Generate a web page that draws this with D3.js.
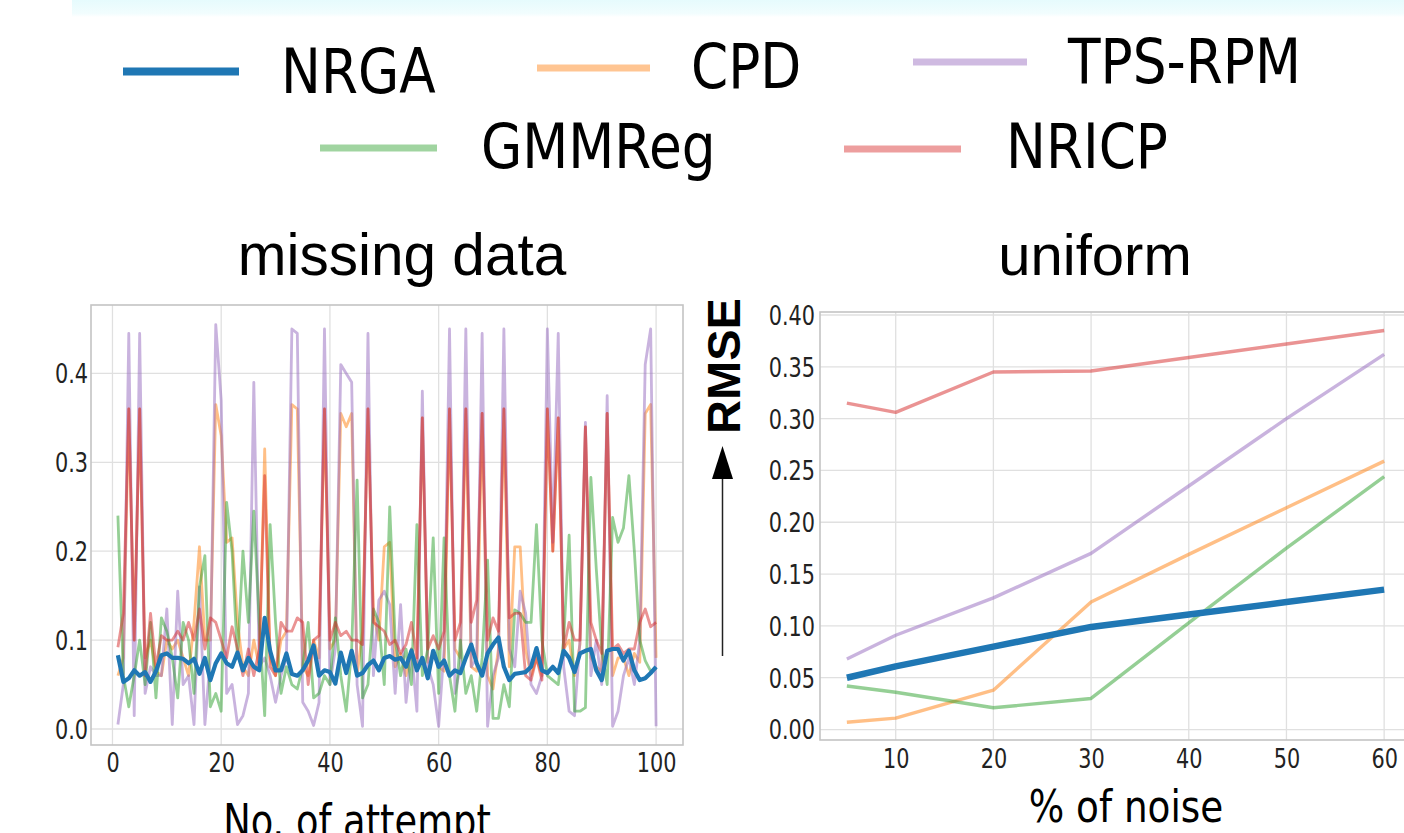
<!DOCTYPE html>
<html><head><meta charset="utf-8">
<script src="https://cdn.jsdelivr.net/npm/d3@7"></script>
<style>html,body{margin:0;padding:0;background:#fff;overflow:hidden}</style>
</head><body>
<svg id="c" width="1404" height="833"></svg>
<script>
const seriesNames = ["NRGA","CPD","TPS-RPM","GMMReg","NRICP"];
const seriesColors = ["#1f77b4","#ff7f0e","#9467bd","#2ca02c","#d62728"];

const attempts = d3.range(1, 101);
const mdNRGA = [
0.083,0.053,0.057,0.066,0.060,0.064,0.053,0.065,0.083,0.085,
0.080,0.080,0.079,0.074,0.079,0.062,0.080,0.055,0.074,0.085,
0.074,0.070,0.086,0.066,0.080,0.070,0.066,0.125,0.088,0.066,
0.066,0.085,0.062,0.060,0.066,0.077,0.094,0.060,0.066,0.064,
0.051,0.086,0.063,0.088,0.060,0.063,0.072,0.077,0.066,0.080,
0.082,0.078,0.080,0.070,0.088,0.066,0.080,0.057,0.088,0.070,
0.077,0.060,0.066,0.063,0.080,0.095,0.074,0.060,0.085,0.095,
0.103,0.070,0.055,0.062,0.063,0.064,0.070,0.091,0.066,0.063,
0.070,0.063,0.088,0.080,0.064,0.085,0.088,0.090,0.066,0.055,
0.088,0.090,0.090,0.077,0.088,0.066,0.055,0.057,0.063,0.070];
const mdCPD = [
0.060,0.080,0.360,0.100,0.360,0.080,0.100,0.065,0.060,0.100,
0.090,0.100,0.080,0.060,0.120,0.205,0.100,0.100,0.365,0.330,
0.210,0.215,0.120,0.070,0.060,0.100,0.070,0.315,0.080,0.060,
0.100,0.110,0.365,0.360,0.070,0.060,0.100,0.080,0.360,0.090,
0.100,0.355,0.340,0.355,0.060,0.110,0.360,0.130,0.100,0.205,
0.210,0.070,0.085,0.060,0.090,0.070,0.350,0.075,0.085,0.070,
0.065,0.360,0.090,0.080,0.360,0.070,0.065,0.355,0.060,0.045,
0.090,0.360,0.070,0.205,0.205,0.090,0.060,0.080,0.060,0.360,
0.200,0.350,0.090,0.100,0.060,0.095,0.340,0.080,0.070,0.065,
0.355,0.060,0.080,0.080,0.060,0.085,0.075,0.355,0.365,0.080];
const mdTPS = [
0.005,0.050,0.445,0.015,0.445,0.040,0.070,0.060,0.060,0.135,
0.005,0.155,0.050,0.060,0.005,0.160,0.005,0.080,0.455,0.370,
0.040,0.050,0.005,0.015,0.040,0.390,0.070,0.080,0.060,0.030,
0.060,0.080,0.450,0.445,0.030,0.020,0.004,0.030,0.450,0.050,
0.090,0.410,0.400,0.390,0.050,0.003,0.445,0.060,0.145,0.155,
0.140,0.040,0.140,0.030,0.090,0.020,0.380,0.070,0.050,0.003,
0.090,0.450,0.040,0.070,0.450,0.070,0.080,0.445,0.003,0.060,
0.080,0.450,0.090,0.070,0.155,0.130,0.050,0.040,0.060,0.450,
0.210,0.445,0.070,0.020,0.015,0.100,0.345,0.060,0.100,0.050,
0.375,0.003,0.020,0.060,0.080,0.050,0.100,0.410,0.450,0.003];
const mdGMM = [
0.240,0.060,0.025,0.060,0.100,0.050,0.120,0.035,0.125,0.110,
0.080,0.035,0.120,0.100,0.040,0.160,0.195,0.025,0.040,0.020,
0.255,0.200,0.080,0.200,0.120,0.245,0.120,0.015,0.230,0.120,
0.040,0.070,0.050,0.045,0.070,0.120,0.035,0.040,0.060,0.050,
0.125,0.060,0.020,0.090,0.280,0.035,0.050,0.135,0.120,0.050,
0.250,0.100,0.060,0.090,0.050,0.230,0.060,0.090,0.215,0.040,
0.215,0.060,0.020,0.100,0.040,0.060,0.020,0.080,0.190,0.012,
0.012,0.050,0.025,0.134,0.130,0.120,0.120,0.230,0.100,0.060,
0.055,0.050,0.100,0.218,0.020,0.020,0.024,0.283,0.180,0.090,
0.050,0.238,0.210,0.226,0.285,0.200,0.100,0.077,0.065,0.068];
const mdNRICP = [
0.092,0.130,0.360,0.100,0.360,0.060,0.130,0.070,0.105,0.100,
0.100,0.110,0.100,0.120,0.100,0.135,0.090,0.125,0.120,0.100,
0.080,0.115,0.090,0.060,0.090,0.060,0.090,0.285,0.070,0.060,
0.120,0.110,0.110,0.125,0.120,0.050,0.100,0.105,0.360,0.100,
0.120,0.105,0.110,0.100,0.100,0.095,0.360,0.120,0.115,0.110,
0.095,0.100,0.085,0.095,0.120,0.080,0.350,0.090,0.105,0.090,
0.110,0.360,0.100,0.120,0.360,0.120,0.145,0.355,0.100,0.125,
0.110,0.360,0.125,0.130,0.130,0.060,0.055,0.080,0.055,0.360,
0.200,0.350,0.090,0.120,0.100,0.100,0.340,0.120,0.100,0.085,
0.355,0.090,0.095,0.085,0.090,0.090,0.120,0.135,0.115,0.120];

const noise = [5,10,20,30,40,50,60];
const unNRGA  = [0.050,0.061,0.080,0.099,0.111,0.123,0.135];
const unCPD   = [0.007,0.011,0.038,0.123,0.169,0.214,0.259];
const unTPS   = [0.068,0.091,0.127,0.170,0.235,0.300,0.362];
const unGMM   = [0.042,0.036,0.021,0.030,0.103,0.175,0.244];
const unNRICP = [0.315,0.306,0.345,0.346,0.359,0.372,0.385];

const leftXTicks = [0,20,40,60,80,100];
const leftYTicks = [0.0,0.1,0.2,0.3,0.4];
const rightXTicks = [10,20,30,40,50,60];
const rightYTicks = [0.00,0.05,0.10,0.15,0.20,0.25,0.30,0.35,0.40];

const svg = d3.select("#c");
const FONT = "'DejaVu Sans', sans-serif";
const SANS = "'Liberation Sans', Arial, sans-serif";

const defs = svg.append("defs");
const g1 = defs.append("linearGradient").attr("id","band").attr("x1",0).attr("y1",0).attr("x2",0).attr("y2",1);
g1.append("stop").attr("offset","0%").attr("stop-color","#e6fbfd");
g1.append("stop").attr("offset","80%").attr("stop-color","#f2fdfe");
g1.append("stop").attr("offset","100%").attr("stop-color","#ffffff");
svg.append("rect").attr("x",72).attr("y",0).attr("width",1332).attr("height",17).attr("fill","url(#band)");

const legend = [
  {i:0, x1:123, x2:239, ly:71.5, tx:281, ty:93, w:8},
  {i:1, x1:537, x2:650, ly:68, tx:691, ty:88, w:7},
  {i:2, x1:913, x2:1027, ly:62, tx:1068, ty:83, w:7},
  {i:3, x1:320, x2:437, ly:148, tx:481, ty:168, w:7},
  {i:4, x1:844, x2:961, ly:149, tx:1006, ty:168, w:7}
];
legend.forEach(d => {
  svg.append("line").attr("x1",d.x1).attr("x2",d.x2).attr("y1",d.ly).attr("y2",d.ly)
    .attr("stroke",seriesColors[d.i]).attr("stroke-width",d.w)
    .attr("stroke-opacity", d.i===0?1:0.45);
  svg.append("text").attr("class","sq").attr("data-f",0.86).attr("x",d.tx).attr("y",d.ty)
    .attr("font-family",FONT).attr("font-size",62).attr("fill","#000").text(seriesNames[d.i]);
});

svg.append("text").attr("x",402).attr("y",275).attr("text-anchor","middle")
  .attr("font-family",SANS).attr("font-size",58.5).attr("fill","#000").text("missing data");
svg.append("text").attr("x",1095).attr("y",275).attr("text-anchor","middle")
  .attr("font-family",SANS).attr("font-size",58).attr("fill","#000").text("uniform");

function panel(opt){
  const x = d3.scaleLinear().domain(opt.xd).range(opt.xr);
  const y = d3.scaleLinear().domain(opt.yd).range(opt.yr);
  const g = svg.append("g");
  const clipId = opt.id + "clip";
  defs.append("clipPath").attr("id",clipId).append("rect")
    .attr("x",opt.xr[0]).attr("y",opt.yr[1]).attr("width",opt.xr[1]-opt.xr[0]).attr("height",opt.yr[0]-opt.yr[1]);
  g.selectAll(".gx").data(opt.xt).join("line")
    .attr("x1",d=>x(d)).attr("x2",d=>x(d)).attr("y1",opt.yr[0]).attr("y2",opt.yr[1])
    .attr("stroke","#e0e0e0").attr("stroke-width",1.3);
  g.selectAll(".gy").data(opt.yt).join("line")
    .attr("x1",opt.xr[0]).attr("x2",opt.xr[1]).attr("y1",d=>y(d)).attr("y2",d=>y(d))
    .attr("stroke","#e0e0e0").attr("stroke-width",1.3);
  const lg = g.append("g").attr("clip-path",`url(#${clipId})`);
  const order = [1,2,3,4,0];
  order.forEach(k=>{
    const vals = opt.series[k];
    const line = d3.line().x((d,i)=>x(opt.xs[i])).y(d=>y(d));
    lg.append("path").datum(vals).attr("d",line).attr("fill","none")
      .attr("stroke",seriesColors[k])
      .attr("stroke-opacity", k===0?1:0.5)
      .attr("stroke-width", k===0?opt.bw:opt.tw)
      .attr("stroke-linejoin","round");
  });
  g.append("rect").attr("x",opt.xr[0]).attr("y",opt.yr[1]).attr("width",opt.xr[1]-opt.xr[0]).attr("height",opt.yr[0]-opt.yr[1])
    .attr("fill","none").attr("stroke","#c4c4c4").attr("stroke-width",1.6);
  const ax = d3.axisBottom(x).tickValues(opt.xt).tickSize(0).tickPadding(0).tickFormat(opt.xf);
  const xa = g.append("g").attr("transform",`translate(0,${opt.xly})`).call(ax);
  xa.select(".domain").remove();
  xa.selectAll("text").attr("class","sq").attr("data-f",0.8).attr("font-family",FONT).attr("font-size",26).attr("fill","#222").attr("dy",0).attr("y",0);
  const ay = d3.axisLeft(y).tickValues(opt.yt).tickSize(0).tickPadding(0).tickFormat(opt.yf);
  const ya = g.append("g").attr("transform",`translate(${opt.ylx},0)`).call(ay);
  ya.select(".domain").remove();
  ya.selectAll("text").attr("class","sq").attr("data-f",0.8).attr("font-family",FONT).attr("font-size",26).attr("fill","#222").attr("dy","0.36em").attr("x",0);
}

panel({
  id:"L", xd:[-3.95,104.95], xr:[91,683], yd:[-0.018,0.477], yr:[745,305],
  xs:attempts, series:[mdNRGA,mdCPD,mdTPS,mdGMM,mdNRICP],
  xt:leftXTicks, yt:leftYTicks, xf:d3.format("d"), yf:d3.format(".1f"),
  xly:772, ylx:88, tw:2.8, bw:4.2
});
panel({
  id:"R", xd:[2.25,62.75], xr:[820,1411], yd:[-0.0101,0.4029], yr:[740,312],
  xs:noise, series:[unNRGA,unCPD,unTPS,unGMM,unNRICP],
  xt:rightXTicks, yt:rightYTicks, xf:d3.format("d"), yf:d3.format(".2f"),
  xly:768, ylx:815, tw:3.4, bw:6.5
});

svg.append("text").attr("class","sq").attr("data-f",0.8).attr("x",357).attr("y",837).attr("text-anchor","middle")
  .attr("font-family",FONT).attr("font-size",46).attr("fill","#000").text("No. of attempt");
svg.append("text").attr("class","sq").attr("data-f",0.83).attr("x",1126).attr("y",822).attr("text-anchor","middle")
  .attr("font-family",FONT).attr("font-size",45).attr("fill","#000").text("% of noise");

svg.append("text").attr("transform","translate(740,366) rotate(-90)").attr("text-anchor","middle")
  .attr("font-family",SANS).attr("font-weight","bold").attr("font-size",47).attr("fill","#000").text("RMSE");
svg.append("line").attr("x1",722.5).attr("x2",722.5).attr("y1",656).attr("y2",476)
  .attr("stroke","#222").attr("stroke-width",1.5);
svg.append("path").attr("d","M722.5,446 L712,479 L733,479 Z").attr("fill","#000");

svg.selectAll("text.sq").each(function(){
  const f = +this.getAttribute("data-f");
  const w = this.getComputedTextLength();
  this.setAttribute("textLength", (w*f).toFixed(1));
  this.setAttribute("lengthAdjust","spacingAndGlyphs");
});
</script>
</body></html>
